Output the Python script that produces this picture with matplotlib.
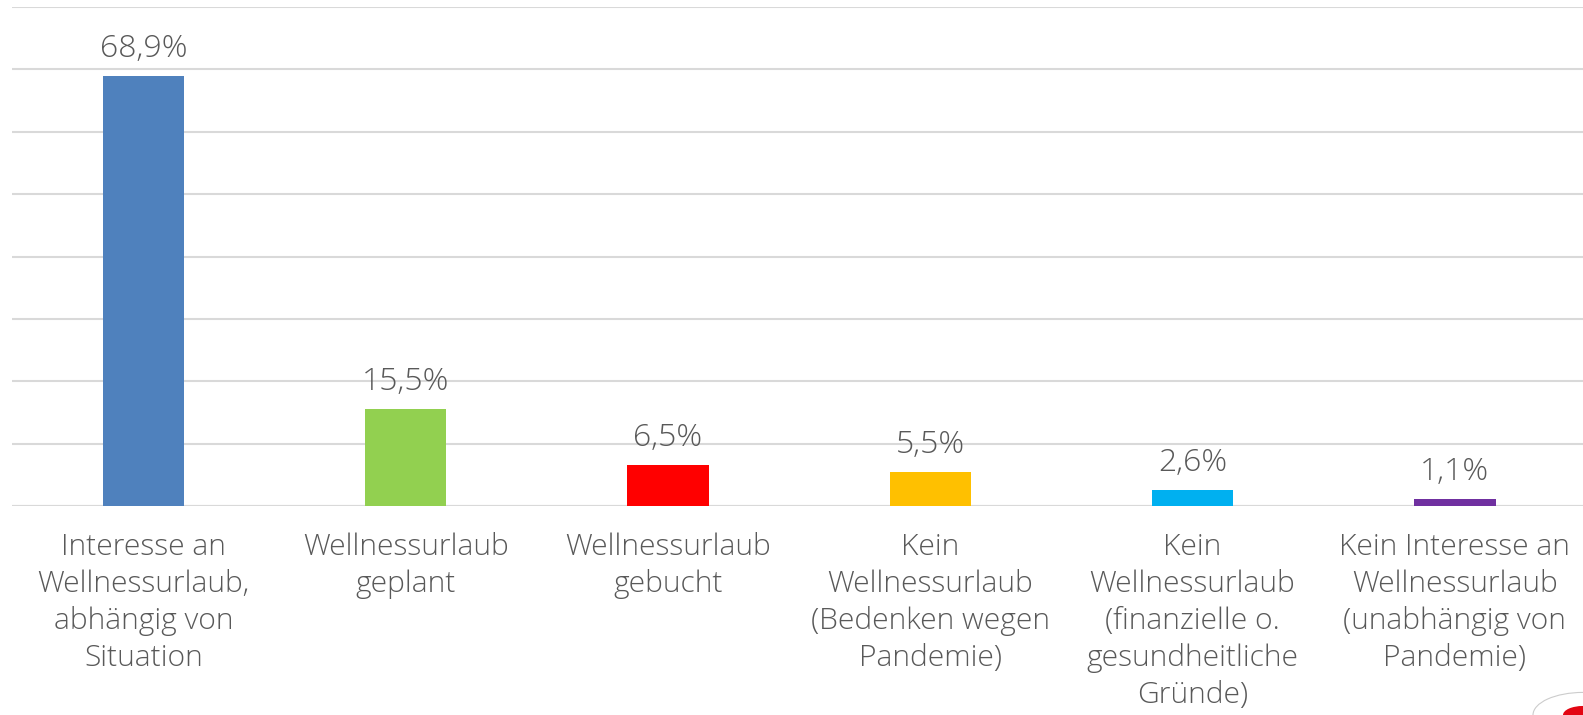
import matplotlib.pyplot as plt
from matplotlib.patches import Circle

# Daten
kategorien = [
    "Interesse an\nWellnessurlaub,\nabhängig von\nSituation",
    "Wellnessurlaub\ngeplant",
    "Wellnessurlaub\ngebucht",
    "Kein\nWellnessurlaub\n(Bedenken wegen\nPandemie)",
    "Kein\nWellnessurlaub\n(finanzielle o.\ngesundheitliche\nGründe)",
    "Kein Interesse an\nWellnessurlaub\n(unabhängig von\nPandemie)",
]
werte = [68.9, 15.5, 6.5, 5.5, 2.6, 1.1]
farben = ['#4F81BD', '#92D050', '#FF0000', '#FFC000', '#00B0F0', '#7030A0']

plt.rcParams['font.family'] = ['Open Sans', 'DejaVu Sans']
textfarbe = '#595959'

W, H = 1583, 715
fig = plt.figure(figsize=(W / 100, H / 100), dpi=100)
ax = fig.add_axes([12.2 / W, 1 - 506 / H, 6 * 262.3 / W, 499 / H])

x = range(len(werte))
bars = ax.bar(x, werte, width=0.31, color=farben, zorder=3)

for bar, w in zip(bars, werte):
    ax.annotate(f'{w:.1f}%'.replace('.', ','),
                (bar.get_x() + bar.get_width() / 2, bar.get_height()),
                xytext=(0, 8), textcoords='offset points',
                ha='center', va='bottom', fontsize=23, color=textfarbe,
                fontweight='light')

ax.set_xlim(-0.5, 5.5)
ax.set_ylim(0, 80)
ax.set_yticks(range(0, 81, 10))
ax.set_yticklabels([])
ax.tick_params(axis='y', length=0)
ax.tick_params(axis='x', length=0, pad=19)
ax.set_xticks(list(x))
ax.set_xticklabels(kategorien, fontsize=21.6, color=textfarbe, linespacing=1.33,
                   fontweight='light')
ax.grid(True, axis='y', color='#D9D9D9', linewidth=1.5, zorder=0)
for s in ax.spines.values():
    s.set_visible(False)
ax.axhline(0, color='#D9D9D9', linewidth=1.5, zorder=1)

# Logo-Ecke unten rechts (angeschnitten)
fig.patches.append(Circle((1583 / W, 0), 50 / W, transform=fig.transFigure,
                          facecolor='white', edgecolor='#CCCCCC', linewidth=0.8))
fig.patches.append(Circle((1583 / W, 0), 20 / W, transform=fig.transFigure,
                          facecolor='#E30613', edgecolor='none'))

plt.savefig('out.png', dpi=100)
